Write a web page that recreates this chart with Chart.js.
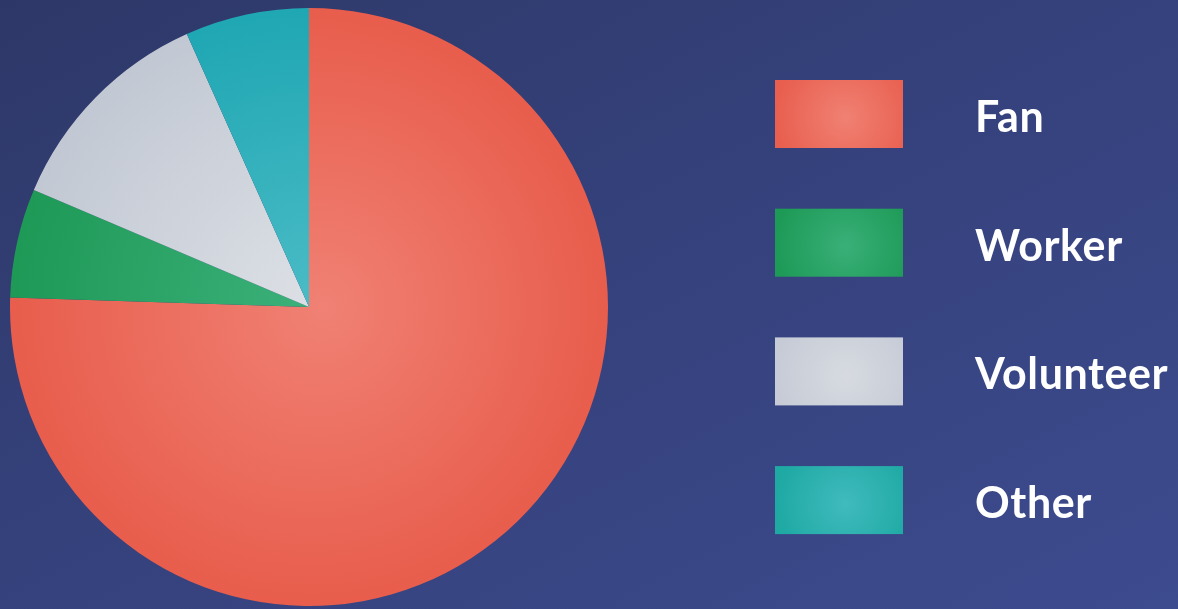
<!DOCTYPE html>
<html>
<head>
<meta charset="utf-8">
<script src="https://cdn.jsdelivr.net/npm/chart.js@4"></script>
<style>
  html, body { margin: 0; padding: 0; background: #343f76; }
  #wrap { width: 1178px; height: 609px; }
</style>
</head>
<body>
<div id="wrap"><canvas id="piechart" width="1178" height="609"></canvas></div>
<script>
// data (percent share)
const labels = ['Fan', 'Worker', 'Volunteer', 'Other']
const values = [75.5, 5.9, 11.9, 6.7]

// slice shades: [near centre, at rim]
const sliceShades = [
    ['#f08174', '#e85d4c'],
    ['#3db27c', '#1e9956'],
    ['#dde1e6', '#c2c8d3'],
    ['#4bbcc6', '#1fa7b3']
]
// legend box shades: [highlight, edge]
const boxShades = [
    ['#f08072', '#e85f4f'],
    ['#38af77', '#1e9a57'],
    ['#d6dae0', '#c6cbd6'],
    ['#3fbabd', '#1ea9a3']
]

const background = {
    id: 'background',
    beforeDraw(chart) {
        const c = chart.ctx
        // runs top-left -> bottom-right, both other corners sit at the same shade
        const g = c.createLinearGradient(0, 0, 497, 961)
        g.addColorStop(0, '#2e3868')
        g.addColorStop(0.41, '#344079')
        g.addColorStop(1, '#3d4b8f')
        c.save()
        c.fillStyle = g
        c.fillRect(0, 0, chart.width, chart.height)
        c.restore()
    }
}

const sideLegend = {
    id: 'sideLegend',
    afterDraw(chart) {
        const c = chart.ctx
        const boxX = 775, boxW = 128, boxH = 68
        const top = 80, step = 128.7
        c.save()
        chart.data.labels.forEach((lab, i) => {
            const y = top + i * step
            const g = c.createRadialGradient(boxX + boxW * 0.55, y + boxH * 0.55, 2, boxX + boxW * 0.55, y + boxH * 0.55, boxW * 0.55)
            g.addColorStop(0, boxShades[i][0])
            g.addColorStop(1, boxShades[i][1])
            c.fillStyle = g
            c.fillRect(boxX, y, boxW, boxH)
            c.fillStyle = '#ffffff'
            c.font = '700 43px Lato'
            c.letterSpacing = '0.6px'
            c.textBaseline = 'alphabetic'
            c.fillText(lab, 975, y + 52)
        })
        c.restore()
    }
}

function sliceColor(context) {
    const chart = context.chart
    const area = chart.chartArea
    if (!area) return sliceShades[context.dataIndex][1]
    const cx = (area.left + area.right) / 2
    const cy = (area.top + area.bottom) / 2
    const r = Math.min(area.right - area.left, area.bottom - area.top) / 2
    const g = chart.ctx.createRadialGradient(cx + 15, cy, 0, cx, cy, r)
    g.addColorStop(0, sliceShades[context.dataIndex][0])
    g.addColorStop(1, sliceShades[context.dataIndex][1])
    return g
}

const ctx = document.getElementById('piechart')
const myChart = new Chart(ctx, {
    type: 'pie',
    data: {
        labels: labels,
        datasets: [{
            data: values,
            backgroundColor: sliceColor,
            borderWidth: 0
        }]
    },
    options: {
        responsive: false,
        animation: false,
        devicePixelRatio: 1,
        layout: {
            padding: { left: 10, top: 8, right: 570, bottom: 3 }
        },
        plugins: {
            legend: { display: false },
            tooltip: { enabled: false }
        }
    },
    plugins: [background, sideLegend]
});
</script>
</body>
</html>
